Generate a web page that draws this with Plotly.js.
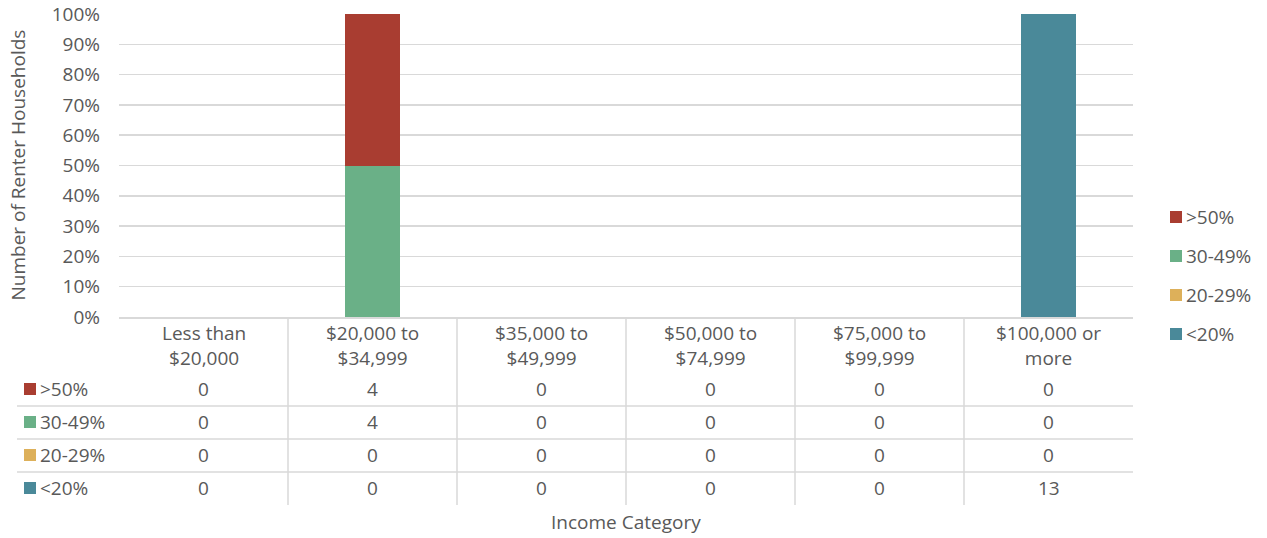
<!DOCTYPE html>
<html>
<head>
<meta charset="utf-8">
<script src="https://cdn.plot.ly/plotly-3.0.1.min.js"></script>
<style>
html,body{margin:0;padding:0;background:#fff;}
#chart{width:1267px;height:538px;}
</style>
</head>
<body>
<div id="chart"></div>
<script>
// ---- data ----
const categories = ["Less than<br>$20,000", "$20,000 to<br>$34,999", "$35,000 to<br>$49,999", "$50,000 to<br>$74,999", "$75,000 to<br>$99,999", "$100,000 or<br>more"];
const seriesNames = [">50%", "30-49%", "20-29%", "<20%"];
const seriesColors = ["#A93D31", "#6AB087", "#DDB05A", "#4A8999"];
const over50 = [0, 4, 0, 0, 0, 0];
const r30to49 = [0, 4, 0, 0, 0, 0];
const r20to29 = [0, 0, 0, 0, 0, 0];
const under20 = [0, 0, 0, 0, 0, 13];
const seriesValues = [over50, r30to49, r20to29, under20];
const yTickVals = [0,10,20,30,40,50,60,70,80,90,100];
const yTitle = "Number of Renter Households";
const xTitle = "Income Category";

// ---- layout helpers (pixel -> paper) ----
const L = 119, R = 1133, T = 14, B = 317;
const W = R - L, H = B - T;
const px = X => (X - L) / W;
const py = Y => (B - Y) / H;

const FONT = "Open Sans";
const TXT = "#595959";
const GRID = "#D9D9D9";
const FS = 19;

// traces: bottom of stack first
const traces = [];
for (let k = seriesNames.length - 1; k >= 0; k--) {
  traces.push({
    type: "bar",
    name: seriesNames[k],
    x: categories,
    y: seriesValues[k],
    marker: {color: seriesColors[k], line: {width: 0}},
    showlegend: false,
    hoverinfo: "skip"
  });
}

const shapes = [];
const annotations = [];
const esc = s => s.replace("<", "&lt;").replace(">", "&gt;");

// table horizontal separators
const rowY = [389, 422, 455, 488];
const sepY = [406, 439, 472];
sepY.forEach(Y => shapes.push({type: "line", xref: "paper", yref: "paper", x0: px(17), x1: 1, y0: py(Y), y1: py(Y), line: {color: GRID, width: 1.5}}));
// vertical separators
for (let i = 0; i < categories.length - 1; i++) {
  shapes.push({type: "line", xref: "x", yref: "paper", x0: i + 0.5, x1: i + 0.5, y0: 0, y1: py(505), line: {color: GRID, width: 1.5}});
}

// category headers (two lines)
categories.forEach((c, i) => {
  annotations.push({xref: "x", yref: "paper", x: i, y: py(345), text: c, showarrow: false, xanchor: "center", yanchor: "middle", align: "center", font: {family: FONT, size: FS, color: TXT}});
});

// table rows
seriesNames.forEach((n, k) => {
  const Y = rowY[k];
  shapes.push({type: "rect", xref: "paper", yref: "paper", x0: px(24), x1: px(36), y0: py(Y - 6), y1: py(Y + 6), fillcolor: seriesColors[k], line: {width: 0}});
  annotations.push({xref: "paper", yref: "paper", x: px(38), y: py(Y), text: esc(n), showarrow: false, xanchor: "left", yanchor: "middle", font: {family: FONT, size: FS, color: TXT}});
  seriesValues[k].forEach((v, i) => annotations.push({xref: "x", yref: "paper", x: i, y: py(Y), text: String(v), showarrow: false, xanchor: "center", yanchor: "middle", font: {family: FONT, size: FS, color: TXT}}));
});

// manual legend on right
const legY = [217, 256, 295, 334];
seriesNames.forEach((n, k) => {
  const Y = legY[k];
  shapes.push({type: "rect", xref: "paper", yref: "paper", x0: px(1170), x1: px(1182), y0: py(Y - 6), y1: py(Y + 6), fillcolor: seriesColors[k], line: {width: 0}});
  annotations.push({xref: "paper", yref: "paper", x: px(1184), y: py(Y), text: esc(n), showarrow: false, xanchor: "left", yanchor: "middle", font: {family: FONT, size: FS, color: TXT}});
});

// axis titles
annotations.push({xref: "paper", yref: "paper", x: px(17), y: 0.5, text: yTitle, textangle: -90, showarrow: false, xanchor: "center", yanchor: "middle", font: {family: FONT, size: FS, color: TXT}});
annotations.push({xref: "paper", yref: "paper", x: 0.5, y: py(522), text: xTitle, showarrow: false, xanchor: "center", yanchor: "middle", font: {family: FONT, size: FS, color: TXT}});

const layout = {
  width: 1267, height: 538,
  margin: {l: L, r: 1267 - R, t: T, b: 538 - B, pad: 0},
  paper_bgcolor: "#fff", plot_bgcolor: "#fff",
  barmode: "stack", barnorm: "percent", bargap: 0.68,
  showlegend: false,
  font: {family: FONT, size: FS, color: TXT},
  xaxis: {type: "category", range: [-0.5, categories.length - 0.5], showticklabels: false, showgrid: false, zeroline: false, showline: true, linecolor: GRID, linewidth: 1.5, ticks: ""},
  yaxis: {range: [0, 100], tickvals: yTickVals, ticktext: yTickVals.map(v => v + "%"), showgrid: true, gridcolor: GRID, gridwidth: 1.5, zeroline: false, showline: false, ticks: "", ticklabelstandoff: 18, tickfont: {family: FONT, size: FS, color: TXT}},
  shapes: shapes,
  annotations: annotations
};

Plotly.newPlot("chart", traces, layout, {staticPlot: true, displayModeBar: false});
</script>
</body>
</html>
